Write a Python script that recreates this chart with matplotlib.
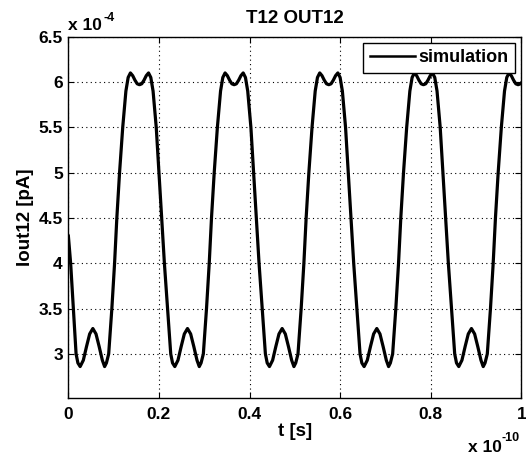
import matplotlib
matplotlib.use("Agg")
import matplotlib.pyplot as plt
import numpy as np

plt.rcParams['font.family'] = ['Liberation Sans', 'DejaVu Sans']
plt.rcParams['font.weight'] = 'bold'
plt.rcParams['font.size'] = 12.5

# t in units of 1e-10 s, current in units of 1e-4 pA
start_t = [0.000, 0.005, 0.011, 0.017, 0.021]
start_i = [4.30, 4.00, 3.50, 3.00, 2.90]

cyc1_t = [0.026, 0.033, 0.040, 0.047, 0.054, 0.061, 0.068, 0.075, 0.080, 0.084, 0.089, 0.096,
          0.102, 0.107, 0.113, 0.120, 0.127, 0.132, 0.137, 0.142, 0.147, 0.152, 0.157, 0.162,
          0.167, 0.172, 0.177, 0.182, 0.187, 0.194, 0.200, 0.206, 0.212, 0.219, 0.226, 0.230]
cyc1_i = [2.86, 2.93, 3.08, 3.22, 3.28, 3.22, 3.08, 2.93, 2.86, 2.90, 3.00, 3.50,
          4.00, 4.50, 5.00, 5.50, 5.90, 6.05, 6.10, 6.07, 6.02, 5.98, 5.97, 5.98,
          6.02, 6.07, 6.10, 6.05, 5.90, 5.50, 5.00, 4.50, 4.00, 3.50, 3.00, 2.90]

cyc2_t = [0.235, 0.242, 0.249, 0.256, 0.263, 0.270, 0.277, 0.284, 0.289, 0.293, 0.298, 0.305,
          0.311, 0.316, 0.322, 0.329, 0.336, 0.341, 0.346, 0.351, 0.356, 0.361, 0.366, 0.371,
          0.376, 0.381, 0.386, 0.391, 0.396, 0.403, 0.409, 0.415, 0.421, 0.428, 0.435, 0.439]
cyc2_i = [2.86, 2.93, 3.08, 3.22, 3.28, 3.22, 3.08, 2.93, 2.86, 2.90, 3.00, 3.50,
          4.00, 4.50, 5.00, 5.50, 5.90, 6.05, 6.10, 6.07, 6.02, 5.98, 5.97, 5.98,
          6.02, 6.07, 6.10, 6.05, 5.90, 5.50, 5.00, 4.50, 4.00, 3.50, 3.00, 2.90]

cyc3_t = [0.444, 0.451, 0.458, 0.465, 0.472, 0.479, 0.486, 0.493, 0.498, 0.502, 0.507, 0.514,
          0.520, 0.525, 0.531, 0.538, 0.545, 0.550, 0.555, 0.560, 0.565, 0.570, 0.575, 0.580,
          0.585, 0.590, 0.595, 0.600, 0.605, 0.612, 0.618, 0.624, 0.630, 0.637, 0.644, 0.648]
cyc3_i = [2.86, 2.93, 3.08, 3.22, 3.28, 3.22, 3.08, 2.93, 2.86, 2.90, 3.00, 3.50,
          4.00, 4.50, 5.00, 5.50, 5.90, 6.05, 6.10, 6.07, 6.02, 5.98, 5.97, 5.98,
          6.02, 6.07, 6.10, 6.05, 5.90, 5.50, 5.00, 4.50, 4.00, 3.50, 3.00, 2.90]

cyc4_t = [0.653, 0.660, 0.667, 0.674, 0.681, 0.688, 0.695, 0.702, 0.707, 0.711, 0.716, 0.723,
          0.729, 0.734, 0.740, 0.747, 0.754, 0.759, 0.764, 0.769, 0.774, 0.779, 0.784, 0.789,
          0.794, 0.799, 0.804, 0.809, 0.814, 0.821, 0.827, 0.833, 0.839, 0.846, 0.853, 0.857]
cyc4_i = [2.86, 2.93, 3.08, 3.22, 3.28, 3.22, 3.08, 2.93, 2.86, 2.90, 3.00, 3.50,
          4.00, 4.50, 5.00, 5.50, 5.90, 6.05, 6.10, 6.07, 6.02, 5.98, 5.97, 5.98,
          6.02, 6.07, 6.10, 6.05, 5.90, 5.50, 5.00, 4.50, 4.00, 3.50, 3.00, 2.90]

cyc5_t = [0.862, 0.869, 0.876, 0.883, 0.890, 0.897, 0.904, 0.911, 0.916, 0.920, 0.925, 0.932,
          0.938, 0.943, 0.949, 0.956, 0.963, 0.968, 0.973, 0.978, 0.983, 0.988, 0.993, 0.998,
          1.000]
cyc5_i = [2.86, 2.93, 3.08, 3.22, 3.28, 3.22, 3.08, 2.93, 2.86, 2.90, 3.00, 3.50,
          4.00, 4.50, 5.00, 5.50, 5.90, 6.05, 6.10, 6.07, 6.02, 5.98, 5.97, 5.98,
          5.99]

x_ticks = [0, 0.2, 0.4, 0.6, 0.8, 1]
x_ticklabels = ['0', '0.2', '0.4', '0.6', '0.8', '1']
y_ticks = [3, 3.5, 4, 4.5, 5, 5.5, 6, 6.5]
y_ticklabels = ['3', '3.5', '4', '4.5', '5', '5.5', '6', '6.5']

t = np.concatenate([start_t, cyc1_t, cyc2_t, cyc3_t, cyc4_t, cyc5_t])
iout = np.concatenate([start_i, cyc1_i, cyc2_i, cyc3_i, cyc4_i, cyc5_i])

fig = plt.figure(figsize=(5.26, 4.54), dpi=100)
ax = fig.add_axes([0.130, 0.1227, 0.861, 0.7965])

ax.plot(t, iout, color='black', linewidth=2.3, solid_joinstyle='round', label='simulation')

ax.set_xlim(0, 1)
ax.set_ylim(2.51, 6.5)
ax.set_xticks(x_ticks)
ax.set_xticklabels(x_ticklabels)
ax.set_yticks(y_ticks)
ax.set_yticklabels(y_ticklabels)
ax.tick_params(direction='in', top=True, right=True, length=4, width=0.8, pad=6)
ax.tick_params(axis='y', pad=4)
ax.grid(True, linestyle=(0, (1, 3)), color='black', linewidth=0.8)
for s in ax.spines.values():
    s.set_linewidth(1.0)

ax.set_title('T12 OUT12', fontweight='bold', fontsize=13.5, pad=10)
ax.set_xlabel('t [s]', fontweight='bold', fontsize=13.5, labelpad=1)
ax.set_ylabel('Iout12 [pA]', fontweight='bold', fontsize=13.5, labelpad=3)

# MATLAB-style exponent labels
fig.text(68 / 526, 1 - 30 / 454, 'x 10', fontsize=12.5, fontweight='bold', ha='left', va='baseline')
fig.text(104 / 526, 1 - 21 / 454, '-4', fontsize=9, fontweight='bold', ha='left', va='baseline')
fig.text(468 / 526, 1 - 452 / 454, 'x 10', fontsize=12.5, fontweight='bold', ha='left', va='baseline')
fig.text(502 / 526, 1 - 441 / 454, '-10', fontsize=9, fontweight='bold', ha='left', va='baseline')

leg = ax.legend(loc='upper right', handlelength=2.5, borderaxespad=0.35, fancybox=False,
                framealpha=1, edgecolor='black', fontsize=13, handletextpad=0.2,
                borderpad=0.35)
leg.get_frame().set_linewidth(1.0)
leg.get_lines()[0].set_linewidth(1.8)

fig.savefig('out.png', dpi=100)
